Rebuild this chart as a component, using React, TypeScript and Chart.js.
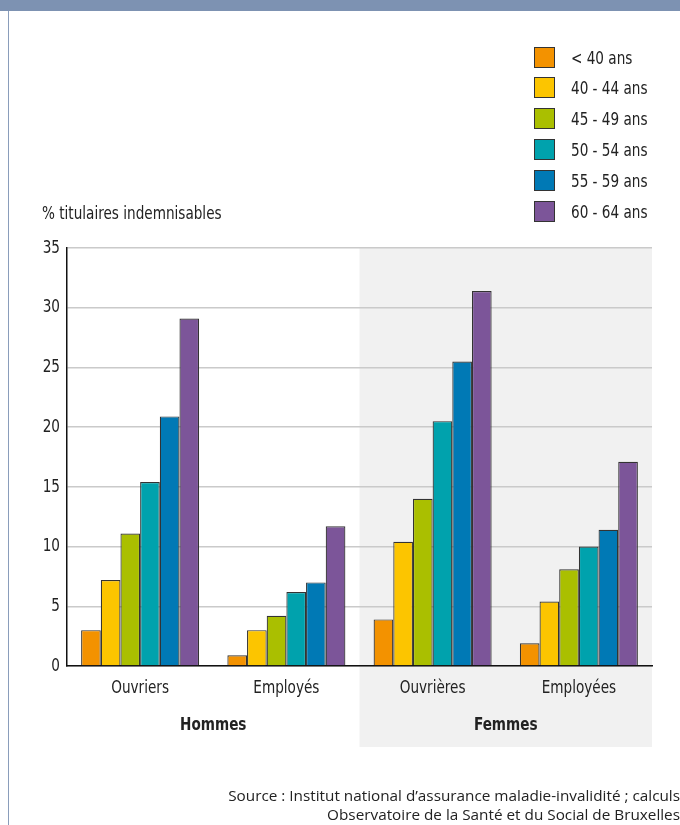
import React, { useEffect, useRef } from "react";
import { Chart, registerables } from "chart.js";

Chart.register(...registerables);

const categories = ["Ouvriers", "Employés", "Ouvrières", "Employées"];
const groups = ["Hommes", "Femmes"];
const seriesLabels = ["< 40 ans", "40 - 44 ans", "45 - 49 ans", "50 - 54 ans", "55 - 59 ans", "60 - 64 ans"];
const lt40 = [3.0, 0.9, 3.9, 1.9];
const a40_44 = [7.2, 3.0, 10.4, 5.4];
const a45_49 = [11.1, 4.2, 14.0, 8.1];
const a50_54 = [15.4, 6.2, 20.5, 10.0];
const a55_59 = [20.9, 7.0, 25.5, 11.4];
const a60_64 = [29.1, 11.7, 31.4, 17.1];
const seriesValues = [lt40, a40_44, a45_49, a50_54, a55_59, a60_64];
const seriesColors = ["#F39200", "#FCC500", "#AABF00", "#00A2AD", "#0079B5", "#7C5599"];
const yTicks = [0, 5, 10, 15, 20, 25, 30, 35];

const COND = "'DejaVu Sans Condensed', 'Liberation Sans Narrow', sans-serif";
const SX = 0.84;

function condText(ctx: any, text: string, x: number, y: number, align: "left" | "center" | "right", font: string) {
  ctx.save();
  ctx.font = font;
  ctx.textBaseline = "middle";
  ctx.textAlign = align;
  ctx.translate(x, y);
  ctx.scale(SX, 1);
  ctx.fillText(text, 0, 0);
  ctx.restore();
}

const customPlugin = {
  id: "custom",
  beforeDraw(chart: any) {
    const { ctx, chartArea, scales } = chart;
    const x = scales.x;
    const mid = (x.getPixelForValue(1) + x.getPixelForValue(2)) / 2;
    ctx.save();
    ctx.fillStyle = "#F1F1F1";
    ctx.fillRect(mid, chartArea.top, chartArea.right - mid, 747 - chartArea.top);
    ctx.restore();
  },
  afterDraw(chart: any) {
    const { ctx, scales, chartArea } = chart;
    const x = scales.x;
    const y = scales.y;
    ctx.save();
    ctx.fillStyle = "#222";
    const f = `18px ${COND}`;
    categories.forEach((c, i) => condText(ctx, c, x.getPixelForValue(i), chartArea.bottom + 22, "center", f));
    yTicks.forEach((v) => condText(ctx, String(v), chartArea.left - 7, y.getPixelForValue(v), "right", f));
    groups.forEach((g, i) => {
      const c = (x.getPixelForValue(i * 2) + x.getPixelForValue(i * 2 + 1)) / 2;
      condText(ctx, g, c, 725, "center", `bold 18px ${COND}`);
    });
    ctx.restore();
  },
};

export default function App() {
  const ref = useRef<HTMLCanvasElement>(null);
  useEffect(() => {
    const chart = new Chart(ref.current!, {
      type: "bar",
      data: {
        labels: categories,
        datasets: seriesLabels.map((l, i) => ({
          label: l,
          data: seriesValues[i],
          backgroundColor: seriesColors[i],
          borderColor: "#333",
          borderWidth: 1.2,
          categoryPercentage: 0.807,
          barPercentage: 1,
        })),
      },
      options: {
        animation: false,
        responsive: false,
        maintainAspectRatio: false,
        layout: { padding: { top: 248, right: 28, bottom: 0, left: 0 } },
        plugins: { legend: { display: false }, tooltip: { enabled: false } },
        scales: {
          x: {
            grid: { display: false },
            border: { display: true, color: "#111", width: 1.5 },
            ticks: { display: false },
            afterFit(s: any) { s.height = 825 - 666; },
          },
          y: {
            min: 0,
            max: 35,
            afterBuildTicks(s: any) { s.ticks = yTicks.map((v) => ({ value: v })); },
            grid: { color: "#CACACA", lineWidth: 1.5, drawTicks: false },
            border: { display: true, color: "#111", width: 1.5 },
            ticks: { display: false },
            afterFit(s: any) { s.width = 67; },
          },
        },
      },
      plugins: [customPlugin],
    });
    return () => chart.destroy();
  }, []);

  const cond: React.CSSProperties = {
    fontFamily: COND,
    fontSize: 18,
    color: "#222",
    whiteSpace: "nowrap",
    transform: `scaleX(${SX})`,
    transformOrigin: "left center",
  };

  return (
    <div style={{ position: "absolute", left: 0, top: 0, width: 680, height: 825, background: "#fff", overflow: "hidden" }}>
      <div style={{ position: "absolute", left: 0, top: 0, width: 680, height: 11, background: "#7D92B2" }} />
      <div style={{ position: "absolute", left: 8, top: 11, width: 1, height: 814, background: "#8A9DBB" }} />
      <canvas ref={ref} width={680} height={825} style={{ position: "absolute", left: 0, top: 0 }} />
      <div style={{ ...cond, position: "absolute", left: 42, top: 201, lineHeight: "24px" }}>
        % titulaires indemnisables
      </div>
      {seriesLabels.map((l, i) => (
        <div key={l} style={{ position: "absolute", left: 534, top: 46 + i * 30.9, height: 22, display: "flex", alignItems: "center" }}>
          <div style={{ width: 19, height: 19, background: seriesColors[i], border: "1px solid #333" }} />
          <div style={{ ...cond, marginLeft: 16 }}>{l}</div>
        </div>
      ))}
      <div style={{ position: "absolute", right: 0, top: 786, textAlign: "right", fontFamily: "'Open Sans', 'Noto Sans', sans-serif", fontSize: 15.3, lineHeight: "19px", color: "#222", whiteSpace: "nowrap" }}>
        Source : Institut national d’assurance maladie-invalidité ; calculs
        <br />
        Observatoire de la Santé et du Social de Bruxelles
      </div>
    </div>
  );
}
